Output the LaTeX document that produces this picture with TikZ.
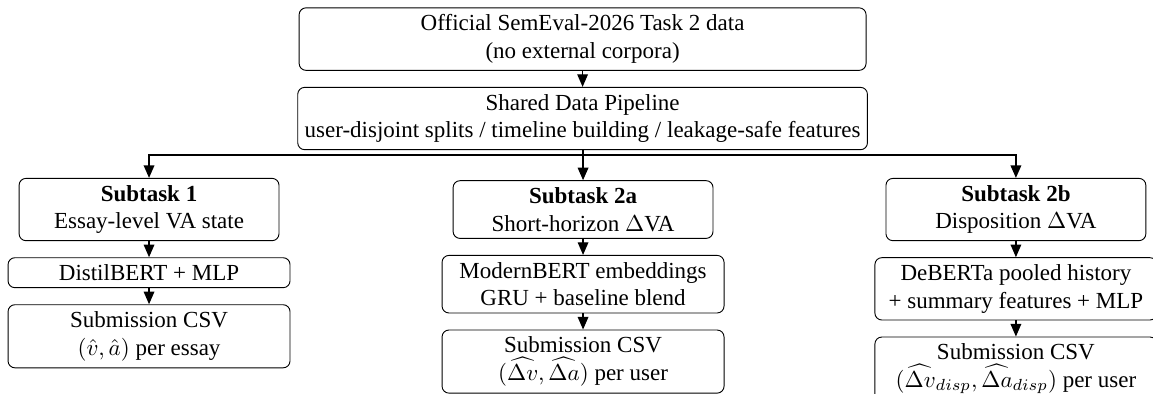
\documentclass[tikz,border=0pt]{standalone}
\usepackage{fontspec}
\setmainfont{Liberation Serif}
\usetikzlibrary{positioning,arrows.meta}

\tikzset{
  blk/.style={draw, rounded corners=3pt, align=center, inner sep=3pt},
  topblk/.style={blk, minimum width=246.5pt},
  taskblk/.style={blk, minimum width=113pt},
  modblk/.style={blk, minimum width=122.6pt},
  arr/.style={-{Triangle[length=5.5pt,width=4.6pt]}, semithick}
}

\begin{document}
\begin{tikzpicture}[x=1pt, y=1pt]
  \useasboundingbox (0,0) rectangle (501.3,-171.3);
  % shared part
  \node[topblk] (data) at (253.3,-17) {Official SemEval-2026 Task 2 data\\(no external corpora)};
  \node[topblk, below=7pt of data] (pipe) {Shared Data Pipeline\\user-disjoint splits / timeline building / leakage-safe features};
  % the three subtasks
  \node[taskblk] (st1)  at (64.8,-91.1)  {\textbf{Subtask 1}\\Essay-level VA state};
  \node[taskblk] (st2a) at (253.5,-91.1) {\textbf{Subtask 2a}\\Short-horizon $\Delta$VA};
  \node[taskblk] (st2b) at (441.7,-91.1) {\textbf{Subtask 2b}\\Disposition $\Delta$VA};
  \node[modblk, below=7pt of st1]  (mod1)  {DistilBERT + MLP};
  \node[modblk, below=7pt of st2a] (mod2a) {ModernBERT embeddings\\GRU + baseline blend};
  \node[modblk, below=7pt of st2b] (mod2b) {DeBERTa pooled history\\+ summary features + MLP};
  \node[modblk, below=7pt of mod1]  (sub1)  {Submission CSV\\$(\hat{v},\hat{a})$ per essay};
  \node[modblk, below=7pt of mod2a] (sub2a) {Submission CSV\\$(\widehat{\Delta v},\widehat{\Delta a})$ per user};
  \node[modblk, below=7pt of mod2b] (sub2b) {Submission CSV\\$(\widehat{\Delta v}_{disp},\widehat{\Delta a}_{disp})$ per user};

  \draw[arr] (data) -- (pipe);
  \foreach \t in {st1, st2a, st2b}
    \draw[arr, thick] (pipe.south) -- ++(0,-2) -| (\t.north);
  \foreach \t in {1, 2a, 2b} {
    \draw[arr] (st\t) -- (mod\t);
    \draw[arr] (mod\t) -- (sub\t);
  }
\end{tikzpicture}
\end{document}
